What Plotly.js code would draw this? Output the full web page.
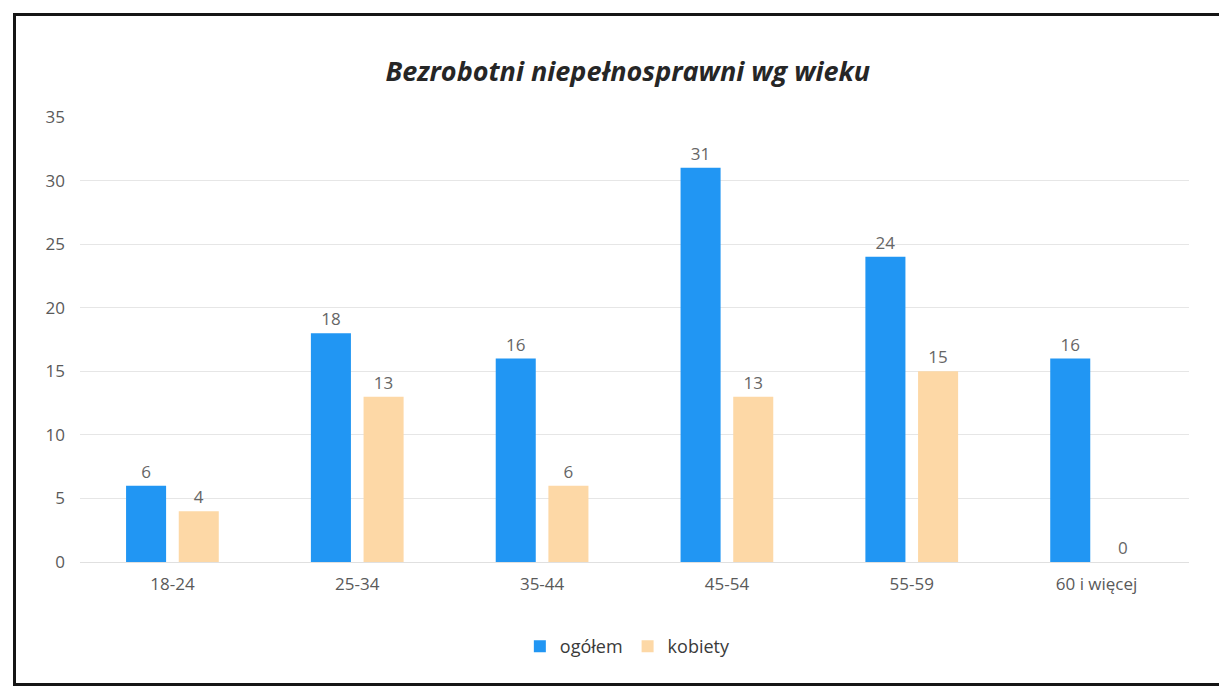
<!DOCTYPE html>
<html>
<head>
<meta charset="utf-8">
<script src="https://cdn.plot.ly/plotly-3.0.1.min.js"></script>
<style>
  html, body { margin: 0; padding: 0; background: #fff; overflow: hidden; }
  #wrap { position: relative; width: 1219px; height: 686px; overflow: hidden; }
  #chart { position: absolute; left: 0; top: 0; width: 1219px; height: 686px; }
  #frame { position: absolute; left: 13px; top: 13px; width: 1300px; height: 667px;
           border: 3px solid #151515; pointer-events: none; }
</style>
</head>
<body>
<div id="wrap">
  <div id="chart"></div>
  <div id="frame"></div>
</div>
<script>
const categories = ["18-24", "25-34", "35-44", "45-54", "55-59", "60 i więcej"];
const ogolem = [6, 18, 16, 31, 24, 16];
const kobiety = [4, 13, 6, 13, 15, 0];
const seriesNames = ["ogółem", "kobiety"];
const yTicks = [0, 5, 10, 15, 20, 25, 30, 35];

const font = "Open Sans, Liberation Sans, sans-serif";
const labelColor = "#5a5a5a";

const traces = [
  {
    type: "bar", name: seriesNames[0], x: categories, y: ogolem,
    marker: { color: "#2196f3" },
    text: ogolem.map(String), textposition: "outside", cliponaxis: false,
    textfont: { family: font, size: 17, color: "#666666" }
  },
  {
    type: "bar", name: seriesNames[1], x: categories, y: kobiety,
    marker: { color: "#fdd8a6" },
    text: kobiety.map(String), textposition: "outside", cliponaxis: false,
    textfont: { family: font, size: 17, color: "#666666" }
  }
];

const layout = {
  width: 1219, height: 686,
  margin: { l: 80, r: 30, t: 117, b: 124 },
  paper_bgcolor: "#ffffff", plot_bgcolor: "#ffffff",
  barmode: "group", bargap: 0.43, bargroupgap: 0.24,
  font: { family: font, color: labelColor, size: 17 },
  title: {
    text: "<b><i>Bezrobotni niepełnosprawni wg wieku</i></b>",
    font: { family: font, size: 27, color: "#262626" },
    xref: "container", yref: "container", x: 0.515, y: 0.896,
    xanchor: "center", yanchor: "middle"
  },
  xaxis: {
    type: "category", showgrid: false, zeroline: false, showline: false,
    ticks: "", tickfont: { family: font, size: 17, color: labelColor },
    ticklabelstandoff: 10
  },
  yaxis: {
    range: [0, 35], tickvals: yTicks, showgrid: true, gridcolor: "#e6e6e6", gridwidth: 1,
    zeroline: true, zerolinecolor: "#e0e0e0", showline: false, ticks: "",
    tickfont: { family: font, size: 17, color: labelColor }, ticklabelstandoff: 14
  },
  showlegend: true,
  legend: {
    orientation: "h", x: 0.494, xanchor: "center", y: -0.19, yanchor: "middle",
    font: { family: font, size: 18, color: "#3a3a3a" }, itemwidth: 30
  }
};

Plotly.newPlot("chart", traces, layout, { displayModeBar: false, staticPlot: true });
</script>
</body>
</html>
